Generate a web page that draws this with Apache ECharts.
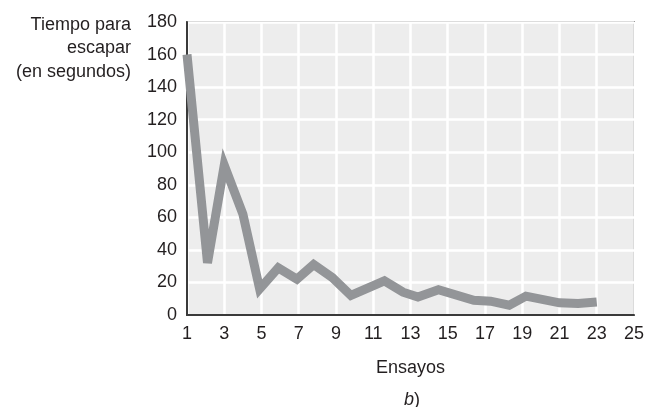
<!DOCTYPE html>
<html><head><meta charset="utf-8">
<script src="https://cdn.jsdelivr.net/npm/echarts@6/dist/echarts.min.js"></script>
<style>html,body{margin:0;padding:0;background:#fff}#c{width:647px;height:407px}</style>
</head><body><div id="c"></div>
<script>
// Trial positions (x) and escape time in seconds (y)
const trialX = [1, 2.1, 3, 4, 4.9, 5.9, 6.9, 7.8, 8.8, 9.8, 11.6, 12.6, 13.4, 14.5, 16.4, 17.3, 18.3, 19.2, 21.0, 22.0, 23.0];
const timeY  = [160, 32, 92, 62, 16, 29, 22, 31, 23, 12, 21, 14, 11, 15.5, 9, 8.5, 6, 11.6, 7.5, 7, 8];
const yNameLines = ['Tiempo para', 'escapar', '(en segundos)'];
const xName = 'Ensayos';
const panelLabel = 'b';

const FONT = "'Liberation Sans', Arial, sans-serif";
const FS = 18;
const TXT = '#231f20';
const chart = echarts.init(document.getElementById('c'), null, {renderer: 'canvas'});
chart.setOption({
  animation: false,
  backgroundColor: '#ffffff',
  grid: {left: 187, right: 10, top: 22, bottom: 92, show: true,
         backgroundColor: '#ededed', borderColor: '#4a4a4a', borderWidth: 1.5},
  xAxis: {
    type: 'value', min: 1, max: 25, interval: 2,
    name: xName, nameLocation: 'middle', nameGap: 44,
    nameTextStyle: {fontFamily: FONT, fontSize: FS, color: TXT},
    axisLine: {show: true, lineStyle: {color: '#3a3a3a', width: 2}},
    axisTick: {show: false},
    axisLabel: {margin: 10, fontFamily: FONT, fontSize: FS, color: TXT},
    splitLine: {show: true, lineStyle: {color: '#ffffff', width: 2.5}}
  },
  yAxis: {
    type: 'value', min: 0, max: 180, interval: 20,
    axisLine: {show: true, lineStyle: {color: '#3a3a3a', width: 2}},
    axisTick: {show: false},
    axisLabel: {margin: 10, fontFamily: FONT, fontSize: FS, color: TXT},
    splitLine: {show: true, lineStyle: {color: '#ffffff', width: 2.5}}
  },
  graphic: yNameLines.map((t, i) => ({
    type: 'text', x: 131, y: 25 + i * 23.5,
    style: {text: t, align: 'right', verticalAlign: 'middle', textAlign: 'right', textVerticalAlign: 'middle',
            fontFamily: FONT, fontSize: FS, fill: TXT}
  })).concat([
    {type: 'text', x: 412, y: 400,
     style: {text: '{i|' + panelLabel + '}{n|)}', align: 'center', verticalAlign: 'middle',
       textAlign: 'center', textVerticalAlign: 'middle', rich: {
       i: {fontFamily: FONT, fontSize: FS, fontStyle: 'italic', fill: TXT},
       n: {fontFamily: FONT, fontSize: FS, fill: TXT}}}}
  ]),
  series: [{
    type: 'line', symbol: 'none',
    data: trialX.map((x, i) => [x, timeY[i]]),
    lineStyle: {color: '#939598', width: 9, join: 'miter', miterLimit: 5, cap: 'butt'}
  }]
});
</script></body></html>
